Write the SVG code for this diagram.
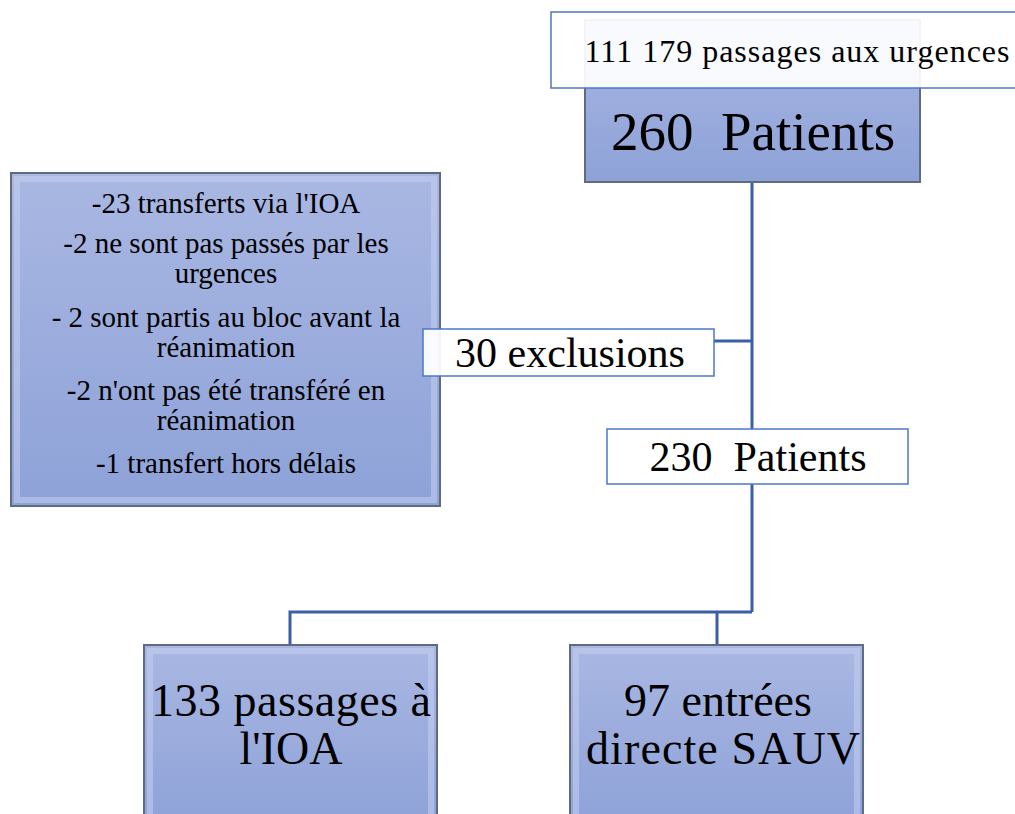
<svg xmlns="http://www.w3.org/2000/svg" width="1015" height="814" viewBox="0 0 1015 814" font-family="'Liberation Serif', serif">
<style>
text{font-family:'Liberation Serif',serif;fill:#000;text-anchor:middle}
.blue{fill:url(#g);stroke:#5f6b80;stroke-width:2}
.bev{fill:none;stroke:#c4cff0;stroke-width:6;opacity:0.55}
.wb{fill:#fff;stroke:#4a78c8;stroke-width:1.5}
.con{fill:none;stroke:#3a5ea8;stroke-width:3}
.s{font-size:29px}
.b{font-size:46px}
.m{font-size:42px}
</style>
<defs>
<linearGradient id="g" x1="0" y1="0" x2="0" y2="1">
<stop offset="0" stop-color="#a9b7e2"/>
<stop offset="1" stop-color="#8ea2d8"/>
</linearGradient>
</defs>
<g id="connectors">
<path class="con" d="M752 182V612M714 341H752M752 612H290V645M717 612V645"/>
</g>
<g id="n260">
<rect class="blue" x="585" y="20" width="335" height="162"/>
<text x="753" y="150" style="font-size:55px">260&#160; Patients</text>
</g>
<g id="ntop">
<rect class="wb" x="551" y="12" width="470" height="76" style="fill-opacity:0.93"/>
<text x="797" y="62" style="font-size:32px" textLength="425" lengthAdjust="spacing">111 179 passages aux urgences</text>
</g>
<g id="nexcl-list">
<rect class="blue" x="11" y="173" width="429" height="333"/>
<rect class="bev" x="17" y="179" width="417" height="321"/>
<text class="s" x="226" y="213">-23 transferts via l'IOA</text>
<text class="s" x="226" y="253">-2 ne sont pas passés par les</text>
<text class="s" x="226" y="283">urgences</text>
<text class="s" x="226" y="327">- 2 sont partis au bloc avant la</text>
<text class="s" x="226" y="357">réanimation</text>
<text class="s" x="226" y="400">-2 n'ont pas été transféré en</text>
<text class="s" x="226" y="430">réanimation</text>
<text class="s" x="226" y="473">-1 transfert hors délais</text>
</g>
<g id="n30">
<rect class="wb" x="423" y="329" width="291" height="47" style="fill-opacity:0.93"/>
<text class="m" x="570" y="367">30 exclusions</text>
</g>
<g id="n230">
<rect class="wb" x="607" y="429" width="301" height="55"/>
<text class="m" x="758" y="471">230&#160; Patients</text>
</g>
<g id="nioa">
<rect class="blue" x="144" y="645" width="293" height="180"/>
<rect class="bev" x="150" y="651" width="281" height="170"/>
<text class="b" x="291" y="716" textLength="280" lengthAdjust="spacing">133 passages à</text>
<text class="b" x="291" y="764">l'IOA</text>
</g>
<g id="nsauv">
<rect class="blue" x="570" y="645" width="293" height="180"/>
<rect class="bev" x="576" y="651" width="281" height="170"/>
<text class="b" x="718" y="716">97 entrées</text>
<text class="b" x="723" y="764" textLength="274" lengthAdjust="spacing">directe SAUV</text>
</g>
</svg>
